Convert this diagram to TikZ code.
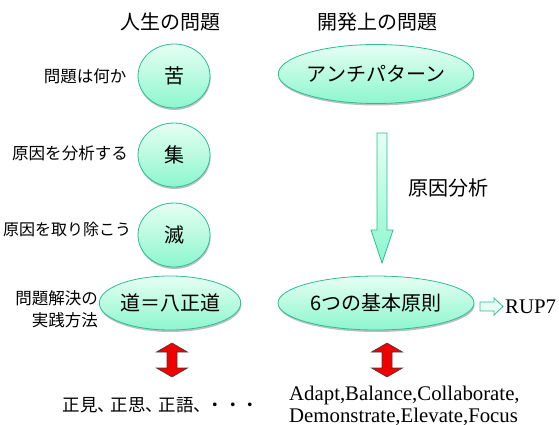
\documentclass[tikz,border=0pt]{standalone}
\usepackage{fontspec}
\setmainfont{Liberation Serif}
\newfontfamily\jp{Noto Sans CJK JP}
\usetikzlibrary{shapes.geometric,shadows}
\definecolor{bord}{RGB}{40,190,150}
\definecolor{topc}{RGB}{230,255,244}
\definecolor{botc}{RGB}{140,246,206}
\definecolor{arrred}{RGB}{240,0,0}
\begin{document}
\begin{tikzpicture}[x=1pt,y=-1pt,
  bub/.style={ellipse, draw=bord, line width=0.8pt, top color=topc, bottom color=botc,
    inner sep=0pt, font=\jp\fontsize{20}{24}\selectfont,
    drop shadow={shadow xshift=0.6pt, shadow yshift=-2pt, fill=black, opacity=0.25}},
  circ/.style={bub, minimum width=72pt, minimum height=64pt},
  oval/.style={bub, minimum height=54pt},
  title/.style={font=\jp\fontsize{20}{24}\selectfont, inner sep=0pt},
  lbl/.style={font=\jp\fontsize{16.5}{22}\selectfont, inner sep=0pt},
  eng/.style={font=\fontsize{20.8}{22}\selectfont, inner sep=0pt, anchor=base west},
  redarr/.pic={\filldraw[fill=arrred, draw=black!75, line width=0.6pt]
    (0,-17) -- (15.5,-8) -- (5,-8) -- (5,8) -- (15.5,8) -- (0,17)
    -- (-15.5,8) -- (-5,8) -- (-5,-8) -- (-15.5,-8) -- cycle;}
]
\useasboundingbox (0,0) rectangle (559,425);

% titles
\node[title] (t1) at (170,22) {人生の問題};
\node[title] (t2) at (377,22) {開発上の問題};

% left column
\node[circ] (ku) at (174,76) {苦};
\node[circ] (ju) at (174,155) {集};
\node[circ] (me) at (174,235) {滅};
\node[oval, minimum width=127pt] (do) at (170,303) {道＝八正道};

\node[lbl] (q1) at (85,76) {問題は何か};
\node[lbl] (q2) at (70,153) {原因を分析する};
\node[lbl, font=\jp\fontsize{16}{22}\selectfont] (q3) at (67,229) {原因を取り除こう};
\node[lbl, align=right, anchor=east] (q4) at (98,309) {問題解決の\\実践方法};

\pic at (172,360) {redarr};
\node[lbl, font=\jp\fontsize{17.5}{22}\selectfont] (sho) at (161,405)
  {正見、\kern-4.5pt正思、\kern-4.5pt正語、\kern-4.5pt・・・};

% right column
\node[oval, minimum width=194pt, minimum height=59pt] (anti) at (376,74) {アンチパターン};
\node[oval, minimum width=196pt] (six) at (376,303) {6つの基本原則};

\path[draw=bord, line width=0.8pt, top color=topc, bottom color=botc]
  (377,133) -- (387,133) -- (387,230) -- (393,230) -- (382,263)
  -- (371,230) -- (377,230) -- cycle;
\node[title] (gen) at (448,188) {原因分析};

\path[draw=bord, line width=0.8pt, fill=topc]
  (480,302) -- (494,302) -- (494,298) -- (503,306.5) -- (494,315)
  -- (494,311) -- (480,311) -- cycle;
\node[eng] (rup) at (505,313) {RUP7};

\pic at (387,360) {redarr};
\node[eng] (ad1) at (289,400) {Adapt,Balance,Collaborate,};
\node[eng] (ad2) at (289,422) {Demonstrate,Elevate,Focus};
\end{tikzpicture}
\end{document}
